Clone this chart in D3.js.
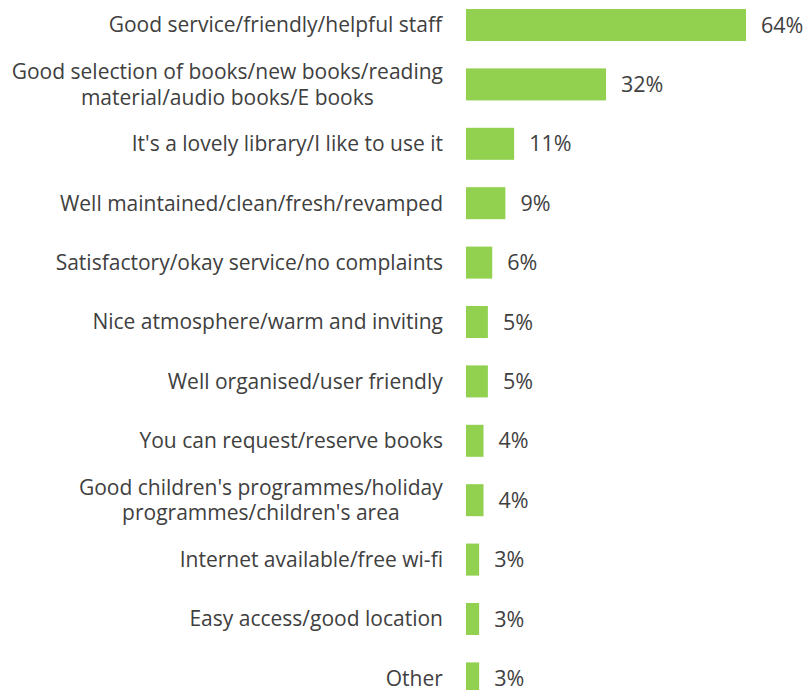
<!DOCTYPE html>
<html>
<head>
<meta charset="utf-8">
<script src="https://cdn.jsdelivr.net/npm/d3@7"></script>
<style>
  html, body { margin: 0; padding: 0; background: #ffffff; }
  svg { display: block; }
  text { font-family: "Open Sans", "DejaVu Sans", sans-serif; fill: #404040; }
</style>
</head>
<body>
<svg id="chart" width="810" height="690"></svg>
<script>
// Reasons people like their library (% of mentions)
const categories = [
  ["Good service/friendly/helpful staff"],
  ["Good selection of books/new books/reading", "material/audio books/E books"],
  ["It's a lovely library/I like to use it"],
  ["Well maintained/clean/fresh/revamped"],
  ["Satisfactory/okay service/no complaints"],
  ["Nice atmosphere/warm and inviting"],
  ["Well organised/user friendly"],
  ["You can request/reserve books"],
  ["Good children's programmes/holiday", "programmes/children's area"],
  ["Internet available/free wi-fi"],
  ["Easy access/good location"],
  ["Other"]
];
const values = [64, 32, 11, 9, 6, 5, 5, 4, 4, 3, 3, 3];
const valueLabels = values.map(v => v + "%");

const svg = d3.select("#chart");
const keys = categories.map((c, i) => i);

const y = d3.scaleBand()
  .domain(keys)
  .range([9, 694.4])
  .paddingInner(0.461)
  .paddingOuter(0);

const x = d3.scaleLinear()
  .domain([0, 64])
  .range([466, 746]);

const fontSize = 21;
const lineH = 25.5;

// bars
svg.append("g").selectAll("rect")
  .data(values)
  .join("rect")
  .attr("x", x(0))
  .attr("y", (d, i) => y(i))
  .attr("width", d => x(d) - x(0))
  .attr("height", y.bandwidth())
  .attr("fill", "#92d050");

// category labels (right aligned, centred on the bar)
const labels = svg.append("g").selectAll("text")
  .data(categories)
  .join("text")
  .attr("text-anchor", "middle")
  .attr("font-size", fontSize);

labels.each(function(lines, i) {
  const t = d3.select(this);
  const cy = y(i) + y.bandwidth() / 2;
  const n = lines.length;
  lines.forEach((line, j) => {
    t.append("tspan")
      .attr("x", 0)
      .attr("y", cy + (j - (n - 1) / 2) * lineH)
      .attr("dy", "0.35em")
      .text(line);
  });
  // right-align the block while keeping lines centred on each other
  const w = this.getBBox().width;
  t.attr("transform", `translate(${443 - w / 2},0)`);
});

// value labels
svg.append("g").selectAll("text")
  .data(values)
  .join("text")
  .attr("x", d => x(d) + 15)
  .attr("y", (d, i) => y(i) + y.bandwidth() / 2)
  .attr("dy", "0.35em")
  .attr("font-size", 21.5)
  .text((d, i) => valueLabels[i]);
</script>
</body>
</html>
